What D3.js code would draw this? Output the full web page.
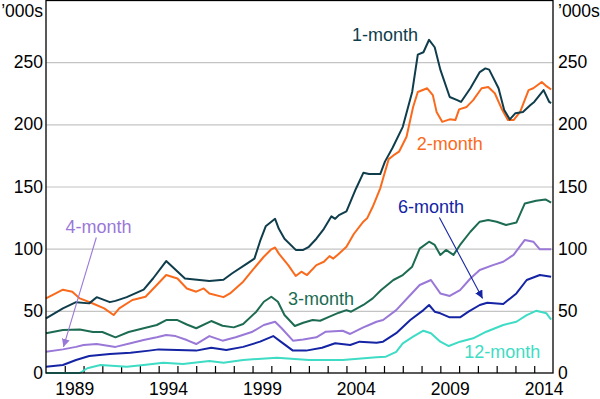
<!DOCTYPE html>
<html>
<head>
<meta charset="utf-8">
<script src="https://cdn.jsdelivr.net/npm/d3@7"></script>
<style>
  body { margin: 0; background: #fff; }
  svg text { font-family: Arial, "Liberation Sans", sans-serif; }
</style>
</head>
<body>
<div id="chart"></div>
<script>
// values, [decimal year, thousands]
const oneMonth = [[1988.0,44],[1988.9,52],[1989.6,57],[1990.3,56],[1990.7,61],[1991.4,57],[1991.7,58],[1992.3,61],
  [1993.2,67],[1993.7,76],[1994.4,90],[1995.4,76],[1996.7,74],[1997.45,75],[1997.9,80],[1998.7,88],[1999.1,92],
  [1999.4,106],[1999.7,118],[2000.2,124],[2000.4,116],[2000.7,108],[2001.3,99],[2001.7,99],[2002.0,101.5],
  [2002.4,108],[2002.8,116],[2003.2,126],[2003.4,124],[2003.6,127],[2004.0,130],[2004.5,148],[2004.9,161],
  [2005.2,160],[2005.8,160],[2006.05,170],[2006.45,181],[2007.0,198],[2007.5,226],[2007.8,256],[2008.1,258],
  [2008.4,268],[2008.7,262],[2009.0,244],[2009.5,222],[2009.9,219.5],[2010.1,218],[2010.6,229],[2011.1,242],
  [2011.4,245],[2011.6,244],[2012.1,229],[2012.4,211.5],[2012.7,204],[2013.0,209],[2013.4,210],[2013.8,215.5],
  [2014.0,218],[2014.5,227.5],[2014.8,218],[2014.9,217]];

const twoMonth = [[1988.0,60],[1988.9,67],[1989.4,65.4],[1989.8,60],[1990.4,56.5],[1991.1,52],[1991.6,46.6],
  [1991.9,52],[1992.6,58.7],[1993.3,61.3],[1993.9,70.8],[1994.4,78.8],[1995.0,76],[1995.5,68],[1996.0,65.4],
  [1996.4,68],[1996.7,64],[1997.45,61],[1997.8,64],[1998.5,73.4],[1999.0,82.8],[1999.6,93.5],[2000.0,99.5],
  [2000.2,101],[2000.4,96],[2000.9,86.8],[2001.3,78],[2001.6,81.5],[2001.9,78.8],[2002.4,86.8],[2002.8,89.5],
  [2003.1,94],[2003.3,92],[2003.6,96],[2004.0,101.5],[2004.4,112],[2004.9,121.7],[2005.1,124.4],[2005.4,133.7],
  [2005.8,148.5],[2005.95,156.5],[2006.25,172],[2006.5,175],[2006.8,178],[2007.2,190],[2007.55,214],
  [2007.8,226],[2008.3,229],[2008.6,223.5],[2008.8,210],[2009.1,202],[2009.5,204],[2009.8,203.4],[2010.0,212],
  [2010.4,214],[2010.75,219.5],[2011.2,229],[2011.55,230],[2011.9,225],[2012.3,211.5],[2012.6,203.4],
  [2012.9,203.4],[2013.25,210],[2013.7,227.5],[2013.95,229],[2014.4,234],[2014.65,230.7],[2014.9,228]];

const threeMonth = [[1988.0,32],[1988.9,34.6],[1989.8,35],[1990.5,33],[1991.0,33],[1991.7,28.7],[1992.4,33],
  [1993.2,36],[1993.9,38.6],[1994.4,42.6],[1995.0,42.6],[1995.5,39],[1996.0,36],[1996.8,41.8],[1997.4,38],
  [1998.0,36.7],[1998.5,39.4],[1999.2,49.3],[1999.6,57.3],[2000.0,61.3],[2000.35,57.3],[2000.7,46.6],
  [2001.25,37.8],[2001.7,40.4],[2002.2,42.6],[2002.6,42],[2003.1,45.3],[2003.6,48.5],[2004.0,50.6],
  [2004.25,49.3],[2004.9,54.7],[2005.4,60],[2005.85,66.7],[2006.5,74.8],[2007.0,78.8],[2007.5,85.5],
  [2007.9,100],[2008.4,105.6],[2008.7,103],[2009.0,95],[2009.3,99],[2009.7,95],[2010.05,103],[2010.6,113.6],
  [2011.1,121.7],[2011.55,123],[2012.0,121.7],[2012.5,119],[2013.05,121],[2013.5,136.4],[2014.1,138.5],
  [2014.6,139.6],[2014.9,137]];

const fourMonth = [[1988.0,17],[1988.9,19],[1989.6,21],[1990.0,22.5],[1990.7,23.3],[1991.7,21],[1992.5,23.9],
  [1993.2,26.5],[1993.9,28.7],[1994.4,30.5],[1994.9,29.7],[1995.5,26.5],[1996.0,23.3],[1996.7,29.7],
  [1997.4,26],[1998.1,28.7],[1999.0,33.2],[1999.6,38.6],[2000.2,41.2],[2000.55,36],[2001.15,26],[2001.7,27],
  [2002.4,28.7],[2002.9,33.2],[2003.8,34],[2004.2,31.4],[2004.9,36.7],[2005.2,38.6],[2005.6,41.2],
  [2005.95,42.6],[2006.65,50.6],[2007.4,62.7],[2007.9,70.8],[2008.5,74.8],[2009.0,64],[2009.5,62],
  [2010.05,66.7],[2010.6,76],[2011.1,82.8],[2011.8,86.8],[2012.35,89.5],[2012.9,95],[2013.5,107],
  [2013.95,105.6],[2014.3,99.5],[2014.9,99.5]];

const sixMonth = [[1988.0,5],[1988.9,6.4],[1989.6,10.5],[1990.3,13.7],[1991.4,15.3],[1992.5,16.3],[1993.5,18],
  [1994.0,19],[1995.0,18.5],[1996.0,18],[1996.8,20.3],[1997.6,18.5],[1998.5,21],[1999.4,25.2],[2000.1,29.7],
  [2000.5,25.2],[2001.15,18],[2001.85,18],[2002.7,20.3],[2003.4,23.9],[2004.2,22.5],[2004.7,25.2],
  [2005.6,24.4],[2005.95,25.2],[2006.65,32],[2007.4,42.6],[2008.1,50.6],[2008.4,54.7],[2008.7,49.3],
  [2009.0,48],[2009.5,44.8],[2010.05,44.8],[2010.5,49.3],[2011.1,54.7],[2011.5,56.5],[2012.35,55.5],
  [2013.05,64],[2013.6,74.8],[2014.3,78.8],[2014.9,77.4]];

const twelveMonth = [[1988.0,0],[1989.8,0],[1990.2,3.8],[1990.9,6.4],[1992.3,5],[1993.2,6.4],[1994.25,8.3],
  [1995.3,7.2],[1996.7,9.6],[1997.45,8.3],[1998.5,10.5],[2000.3,12.3],[2002.0,10.5],[2003.8,10.5],
  [2005.6,12.6],[2006.1,13.1],[2006.65,17],[2007.0,23.9],[2007.55,29.2],[2008.1,34],[2008.5,32],[2009.0,25.2],
  [2009.45,21.7],[2010.05,25.2],[2010.75,27.9],[2011.45,33.2],[2012.35,38.6],[2013.05,41.2],[2013.6,46.6],
  [2014.1,50],[2014.65,48],[2014.9,43]];

const seriesNames = ['1-month', '2-month', '3-month', '4-month', '6-month', '12-month'];
const seriesData = [oneMonth, twoMonth, threeMonth, fourMonth, sixMonth, twelveMonth];
const seriesColors = ['#0f3d4c', '#fa6a1c', '#1d6b52', '#9a78d8', '#1424a4', '#3edcc4'];
// label anchor [year, value] for each series
const labelPos = [[2006.05, 267], [2009.5, 179], [2002.65, 54.5], [1990.8, 112.5], [2008.5, 128.5], [2012.3, 12]];
// arrows [from, to] in data units
const arrows = [{ series: 3, from: [1990.68, 109], to: [1988.93, 21] },
                { series: 4, from: [2008.95, 125], to: [2011.25, 60] }];

const yTicks = [0, 50, 100, 150, 200, 250];
const labelYears = [1989, 1994, 1999, 2004, 2009, 2014];

const svgwidth = 600;
const svgheight = 399;
const plotLeft = 46, plotRight = 553, plotTop = 0, plotBottom = 373;

const svg = d3.select('#chart')
    .append('svg')
    .attr('width', svgwidth)
    .attr('height', svgheight);

const xscale = d3.scaleLinear().domain([1988, 2015]).range([plotLeft, plotRight]);
const yscale = d3.scaleLinear().domain([0, 300]).range([plotBottom, plotTop]);

// gridlines
svg.append('g')
    .attr('transform', `translate(${plotLeft},0)`)
    .call(d3.axisLeft(yscale).tickValues(yTicks.slice(1)).tickSize(-(plotRight - plotLeft)).tickFormat(''))
    .call(g => g.select('.domain').remove())
    .call(g => g.selectAll('line').attr('stroke', '#c4c4c4').attr('stroke-width', 1.2));

// year ticks inside the bottom edge
svg.append('g')
    .attr('transform', `translate(0,${plotBottom})`)
    .call(d3.axisBottom(xscale).tickValues(d3.range(1989, 2015)).tickSize(-7).tickFormat(''))
    .call(g => g.select('.domain').remove())
    .call(g => g.selectAll('line').attr('stroke', '#000').attr('stroke-width', 1.2));

// year labels centred in the year
svg.append('g')
    .attr('transform', `translate(0,${plotBottom})`)
    .call(d3.axisBottom(xscale).tickValues(labelYears.map(y => y + 0.5)).tickSize(0).tickPadding(10)
        .tickFormat(d => Math.floor(d)))
    .call(g => g.select('.domain').remove())
    .call(g => g.selectAll('text').attr('font-size', 17.5).attr('fill', '#000')
        .attr('font-family', 'Arial, "Liberation Sans", sans-serif'));

// y labels both sides
[['left', d3.axisLeft, plotLeft - 3], ['right', d3.axisRight, plotRight + 5]].forEach(([side, ax, pos]) => {
    svg.append('g')
        .attr('transform', `translate(${pos},0)`)
        .call(ax(yscale).tickValues(yTicks).tickSize(0).tickPadding(0))
        .call(g => g.select('.domain').remove())
        .call(g => g.selectAll('text').attr('font-size', 17.5).attr('fill', '#000')
            .attr('font-family', 'Arial, "Liberation Sans", sans-serif'));
    svg.append('text')
        .attr('x', pos)
        .attr('y', 17)
        .attr('text-anchor', side === 'left' ? 'end' : 'start')
        .attr('font-size', 17.5)
        .text('\u2019000s');
});

// lines
const line = d3.line()
    .x(d => xscale(d[0]))
    .y(d => yscale(d[1]));

// draw back to front so 1-month ends on top
for (let i = seriesData.length - 1; i >= 0; i--) {
    svg.append('path')
        .datum(seriesData[i])
        .attr('d', line)
        .attr('fill', 'none')
        .attr('stroke', seriesColors[i])
        .attr('stroke-width', 2)
        .attr('stroke-linejoin', 'round');
}

// series labels
seriesNames.forEach((name, i) => {
    svg.append('text')
        .attr('x', xscale(labelPos[i][0]))
        .attr('y', yscale(labelPos[i][1]))
        .attr('text-anchor', 'middle')
        .attr('font-size', 18)
        .attr('fill', seriesColors[i])
        .text(name);
});

// arrows
const defs = svg.append('defs');
arrows.forEach((a, i) => {
    defs.append('marker')
        .attr('id', 'arrow' + i)
        .attr('viewBox', '0 0 10 10')
        .attr('refX', 10).attr('refY', 5)
        .attr('markerWidth', 8).attr('markerHeight', 8)
        .attr('markerUnits', 'userSpaceOnUse')
        .attr('orient', 'auto')
        .append('path')
        .attr('d', 'M0,0 L10,5 L0,10 Z')
        .attr('fill', seriesColors[a.series]);
    svg.append('line')
        .attr('x1', xscale(a.from[0])).attr('y1', yscale(a.from[1]))
        .attr('x2', xscale(a.to[0])).attr('y2', yscale(a.to[1]))
        .attr('stroke', seriesColors[a.series])
        .attr('stroke-width', 1.1)
        .attr('marker-end', `url(#arrow${i})`);
});

// frame
svg.append('rect')
    .attr('x', plotLeft).attr('y', plotTop + 0.5)
    .attr('width', plotRight - plotLeft).attr('height', plotBottom - plotTop - 0.5)
    .attr('fill', 'none')
    .attr('stroke', '#000')
    .attr('stroke-width', 1.3);
</script>
</body>
</html>
